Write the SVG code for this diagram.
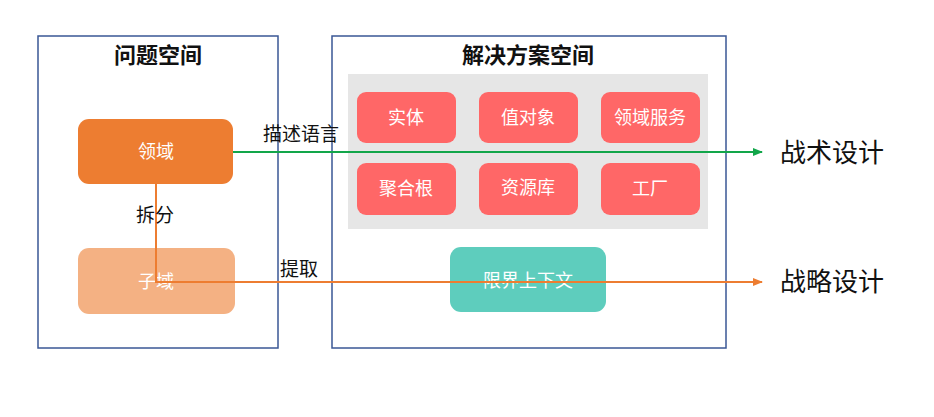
<svg xmlns="http://www.w3.org/2000/svg" width="934" height="417" viewBox="0 0 934 417">
<defs>
<style>
text{font-family:"Liberation Sans","Noto Sans CJK SC",sans-serif;}
.frame{fill:none;stroke:#3A5795;stroke-width:1.5;}
.title{font-size:22px;font-weight:bold;fill:#111;text-anchor:middle;}
.nt{font-size:18px;fill:#fff;text-anchor:middle;dominant-baseline:central;}
.red{fill:#FF6767;}
.lbl{font-size:19px;fill:#111;}
.big{font-size:26px;fill:#111;dominant-baseline:central;}
</style>
<marker id="ag" markerWidth="10" markerHeight="8" refX="9" refY="4" orient="auto" markerUnits="userSpaceOnUse"><path d="M0,0 L10,4 L0,8 z" fill="#12A64A"/></marker>
<marker id="ao" markerWidth="10" markerHeight="8" refX="9" refY="4" orient="auto" markerUnits="userSpaceOnUse"><path d="M0,0 L10,4 L0,8 z" fill="#ED7D31"/></marker>
</defs>
<rect width="934" height="417" fill="#fff"/>
<g id="problem-space">
<rect class="frame" x="38" y="36" width="240" height="312"/>
<text class="title" x="158" y="63">问题空间</text>
</g>
<g id="solution-space">
<rect class="frame" x="332" y="36" width="394" height="312"/>
<text class="title" x="528" y="63">解决方案空间</text>
<rect x="348" y="74" width="360" height="155" fill="#E6E6E6"/>
</g>
<g id="domain"><rect x="78" y="119" width="155" height="65" rx="11" fill="#ED7D31"/><text class="nt" x="156" y="152">领域</text></g>
<g id="subdomain"><rect x="78" y="248" width="157" height="66" rx="11" fill="#F4B183"/><text class="nt" x="156" y="282">子域</text></g>
<g id="entity"><rect class="red" x="357" y="92" width="99" height="51" rx="9"/><text class="nt" x="406" y="118">实体</text></g>
<g id="value-object"><rect class="red" x="479" y="92" width="99" height="51" rx="9"/><text class="nt" x="528" y="118">值对象</text></g>
<g id="domain-service"><rect class="red" x="601" y="92" width="99" height="51" rx="9"/><text class="nt" x="650" y="118">领域服务</text></g>
<g id="aggregate-root"><rect class="red" x="357" y="163" width="99" height="52" rx="9"/><text class="nt" x="406" y="189">聚合根</text></g>
<g id="repository"><rect class="red" x="479" y="163" width="99" height="52" rx="9"/><text class="nt" x="528" y="188">资源库</text></g>
<g id="factory"><rect class="red" x="601" y="163" width="99" height="52" rx="9"/><text class="nt" x="650" y="189">工厂</text></g>
<g id="bounded-context"><rect x="450" y="247" width="156" height="65" rx="11" fill="#5ECDBD"/><text class="nt" x="528" y="281">限界上下文</text></g>
<g id="connectors">
<path d="M233,152 H762" fill="none" stroke="#12A64A" stroke-width="2" marker-end="url(#ag)"/>
<path d="M156,184 V282 H762" fill="none" stroke="#ED7D31" stroke-width="2" marker-end="url(#ao)"/>
<text class="lbl" x="263" y="141">描述语言</text>
<text class="lbl" x="136" y="222">拆分</text>
<text class="lbl" x="280" y="276">提取</text>
</g>
<g id="tactical"><text class="big" x="780" y="153">战术设计</text></g>
<g id="strategic"><text class="big" x="780" y="282">战略设计</text></g>
</svg>
